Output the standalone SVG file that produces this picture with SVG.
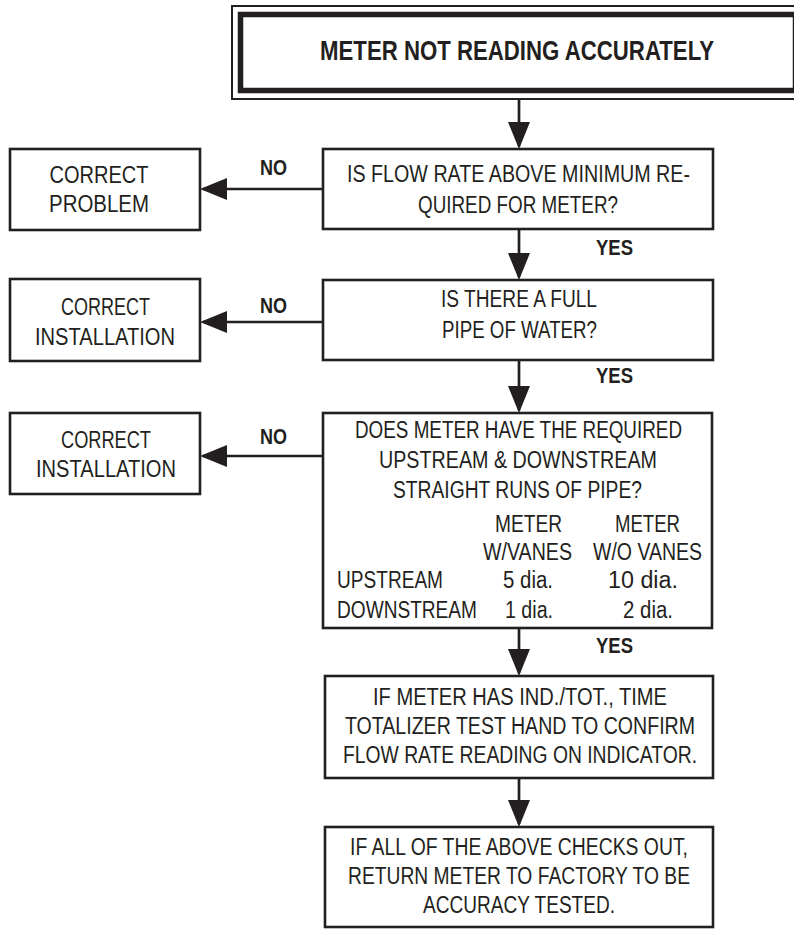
<svg xmlns="http://www.w3.org/2000/svg" width="794" height="929" viewBox="0 0 794 929">
<style>
  .box { fill: #ffffff; stroke: #231f20; stroke-width: 2.6; }
  .t { font-family: "Liberation Sans", Arial, sans-serif; font-size: 23px; fill: #231f20; }
  .b { font-family: "Liberation Sans", Arial, sans-serif; font-weight: bold; font-size: 22px; fill: #231f20; }
  .ttl { font-family: "Liberation Sans", Arial, sans-serif; font-weight: bold; font-size: 28px; fill: #231f20; }
  .c { text-anchor: middle; }
  .conn { stroke: #231f20; stroke-width: 2.7; fill: none; }
</style>
<defs>
  <marker id="arr" viewBox="0 0 27 22" refX="24" refY="11" markerWidth="27" markerHeight="22" markerUnits="userSpaceOnUse" orient="auto">
    <path d="M0,0 L27,11 L0,22 Z" fill="#231f20"/>
  </marker>
</defs>
<rect width="794" height="929" fill="#ffffff"/>

<g id="connectors">
  <line class="conn" x1="519" y1="99" x2="519" y2="146" marker-end="url(#arr)"/>
  <line class="conn" x1="519" y1="229" x2="519" y2="277" marker-end="url(#arr)"/>
  <line class="conn" x1="519" y1="360" x2="519" y2="410" marker-end="url(#arr)"/>
  <line class="conn" x1="519" y1="628" x2="519" y2="673" marker-end="url(#arr)"/>
  <line class="conn" x1="519" y1="778" x2="519" y2="824" marker-end="url(#arr)"/>
  <line class="conn" x1="323" y1="189" x2="203" y2="189" marker-end="url(#arr)"/>
  <line class="conn" x1="323" y1="322" x2="203" y2="322" marker-end="url(#arr)"/>
  <line class="conn" x1="323" y1="456" x2="203" y2="456" marker-end="url(#arr)"/>
  <text class="b" x="260" y="175" textLength="27" lengthAdjust="spacingAndGlyphs">NO</text>
  <text class="b" x="260" y="313" textLength="27" lengthAdjust="spacingAndGlyphs">NO</text>
  <text class="b" x="260" y="444" textLength="27" lengthAdjust="spacingAndGlyphs">NO</text>
  <text class="b" x="596" y="255" textLength="37" lengthAdjust="spacingAndGlyphs">YES</text>
  <text class="b" x="596" y="383" textLength="37" lengthAdjust="spacingAndGlyphs">YES</text>
  <text class="b" x="596" y="653" textLength="37" lengthAdjust="spacingAndGlyphs">YES</text>
</g>

<g id="start">
  <rect x="232" y="6" width="574" height="93" fill="#ffffff" stroke="#231f20" stroke-width="2"/>
  <rect x="240.5" y="14.5" width="555" height="76" fill="none" stroke="#231f20" stroke-width="5.5"/>
  <text class="ttl c" x="517" y="60" textLength="394" lengthAdjust="spacingAndGlyphs">METER NOT READING ACCURATELY</text>
</g>

<g id="q-flow">
  <rect class="box" x="323" y="149" width="390" height="80"/>
  <text class="t c" x="518.5" y="182" textLength="343" lengthAdjust="spacingAndGlyphs">IS FLOW RATE ABOVE MINIMUM RE-</text>
  <text class="t c" x="518" y="213" textLength="200" lengthAdjust="spacingAndGlyphs">QUIRED FOR METER?</text>
</g>

<g id="fix-problem">
  <rect class="box" x="10" y="149" width="190" height="81"/>
  <text class="t c" x="99" y="183" textLength="99" lengthAdjust="spacingAndGlyphs">CORRECT</text>
  <text class="t c" x="99" y="212" textLength="100" lengthAdjust="spacingAndGlyphs">PROBLEM</text>
</g>

<g id="q-full-pipe">
  <rect class="box" x="323" y="280" width="390" height="80"/>
  <text class="t c" x="519" y="307" textLength="156" lengthAdjust="spacingAndGlyphs">IS THERE A FULL</text>
  <text class="t c" x="519.5" y="338" textLength="155" lengthAdjust="spacingAndGlyphs">PIPE OF WATER?</text>
</g>

<g id="fix-install-1">
  <rect class="box" x="10" y="279" width="190" height="82"/>
  <text class="t c" x="105.5" y="315" textLength="89" lengthAdjust="spacingAndGlyphs">CORRECT</text>
  <text class="t c" x="105" y="345" textLength="140" lengthAdjust="spacingAndGlyphs">INSTALLATION</text>
</g>

<g id="q-straight-runs">
  <rect class="box" x="323" y="413" width="389" height="215"/>
  <text class="t c" x="518.5" y="438" textLength="327" lengthAdjust="spacingAndGlyphs">DOES METER HAVE THE REQUIRED</text>
  <text class="t c" x="518" y="468" textLength="278" lengthAdjust="spacingAndGlyphs">UPSTREAM &amp; DOWNSTREAM</text>
  <text class="t c" x="517.5" y="498" textLength="249" lengthAdjust="spacingAndGlyphs">STRAIGHT RUNS OF PIPE?</text>
  <text class="t c" x="528.5" y="532" textLength="67" lengthAdjust="spacingAndGlyphs">METER</text>
  <text class="t c" x="647.5" y="532" textLength="65" lengthAdjust="spacingAndGlyphs">METER</text>
  <text class="t c" x="527.5" y="560" textLength="89" lengthAdjust="spacingAndGlyphs">W/VANES</text>
  <text class="t c" x="647.5" y="560" textLength="109" lengthAdjust="spacingAndGlyphs">W/O VANES</text>
  <text class="t" x="337" y="588" textLength="106" lengthAdjust="spacingAndGlyphs">UPSTREAM</text>
  <text class="t c" x="528" y="588" textLength="50" lengthAdjust="spacingAndGlyphs">5 dia.</text>
  <text class="t c" x="643" y="588" textLength="70" lengthAdjust="spacingAndGlyphs">10 dia.</text>
  <text class="t" x="337" y="618" textLength="140" lengthAdjust="spacingAndGlyphs">DOWNSTREAM</text>
  <text class="t c" x="529" y="618" textLength="48" lengthAdjust="spacingAndGlyphs">1 dia.</text>
  <text class="t c" x="648" y="618" textLength="50" lengthAdjust="spacingAndGlyphs">2 dia.</text>
</g>

<g id="fix-install-2">
  <rect class="box" x="10" y="413" width="190" height="81"/>
  <text class="t c" x="106" y="448" textLength="90" lengthAdjust="spacingAndGlyphs">CORRECT</text>
  <text class="t c" x="106" y="477" textLength="140" lengthAdjust="spacingAndGlyphs">INSTALLATION</text>
</g>

<g id="time-totalizer">
  <rect class="box" x="325" y="676" width="388" height="102"/>
  <text class="t c" x="520" y="705" textLength="294" lengthAdjust="spacingAndGlyphs">IF METER HAS IND./TOT., TIME</text>
  <text class="t c" x="520" y="734" textLength="350" lengthAdjust="spacingAndGlyphs">TOTALIZER TEST HAND TO CONFIRM</text>
  <text class="t c" x="520" y="763" textLength="354" lengthAdjust="spacingAndGlyphs">FLOW RATE READING ON INDICATOR.</text>
</g>

<g id="return-factory">
  <rect class="box" x="325" y="827" width="388" height="100"/>
  <text class="t c" x="519" y="855" textLength="338" lengthAdjust="spacingAndGlyphs">IF ALL OF THE ABOVE CHECKS OUT,</text>
  <text class="t c" x="519" y="884" textLength="342" lengthAdjust="spacingAndGlyphs">RETURN METER TO FACTORY TO BE</text>
  <text class="t c" x="519" y="913" textLength="192" lengthAdjust="spacingAndGlyphs">ACCURACY TESTED.</text>
</g>
</svg>
